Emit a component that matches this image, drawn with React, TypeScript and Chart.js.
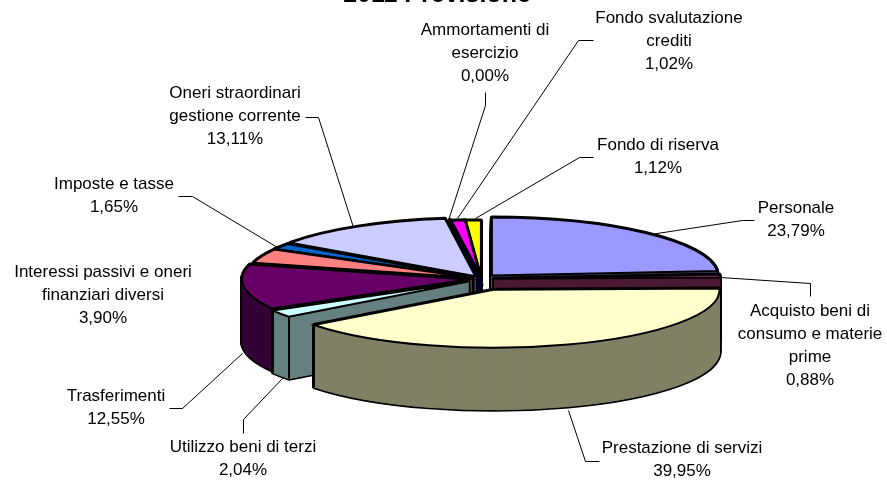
import React, { useEffect, useRef } from "react";
import { Chart, registerables } from "chart.js";

Chart.register(...registerables);

const TITLE = "2011 Previsione";

const categories = [
  "Personale",
  "Acquisto beni di\nconsumo e materie\nprime",
  "Prestazione di servizi",
  "Utilizzo beni di terzi",
  "Trasferimenti",
  "Interessi passivi e oneri\nfinanziari diversi",
  "Imposte e tasse",
  "Oneri straordinari\ngestione corrente",
  "Ammortamenti di\nesercizio",
  "Fondo svalutazione\ncrediti",
  "Fondo di riserva",
];

const values = [23.79, 0.88, 39.95, 2.04, 12.55, 3.9, 1.65, 13.11, 0.004, 1.02, 1.12];

const topColors = ["#9999FF", "#993366", "#FFFFCC", "#CCFFFF", "#660066", "#FF8080", "#0066CC", "#CCCCFF", "#000080", "#FF00FF", "#FFFF00"];
const sideColors = ["#4D4D80", "#4D1A33", "#808066", "#668080", "#330033", "#804040", "#003366", "#666680", "#000040", "#800080", "#808000"];

// How far each slice is pulled out of the pie
const explode = [16, 13, 38, 15, 13, 10, 10, 11, 6, 3, 2];
// Back-to-front painting order of the slices
const paintOrder = [10, 9, 8, 0, 7, 6, 5, 1, 4, 3, 2];

const PIE = { cx: 481, cy: 279, radius: 226, squash: 0.2566, depth: 62, explodeY: 0.3 };

// Label layout: centre x, first line centre y, leader polyline
const labelLayout = [
  { x: 796, y: 208, leader: [[650, 234], [742, 220], [754, 220]] },
  { x: 810, y: 311, leader: [[720, 277], [810, 283], [810, 296]] },
  { x: 682, y: 448, leader: [[568, 410], [585, 461], [599, 461]] },
  { x: 243, y: 447, leader: [[282, 378], [243, 419], [243, 433]] },
  { x: 116, y: 396, leader: [[242, 353], [182, 408], [169, 408]] },
  { x: 103, y: 272, leader: [] },
  { x: 114, y: 184, leader: [[277, 247], [192, 196], [178, 196]] },
  { x: 235, y: 93, leader: [[353, 227], [318, 117], [305, 117]] },
  { x: 485, y: 30, leader: [[448, 220], [485, 105], [485, 92]] },
  { x: 669, y: 18, leader: [[457, 218], [578, 40], [593, 40]] },
  { x: 658, y: 145, leader: [[475, 218], [579, 157], [593, 157]] },
];

const LABEL_FONT = "17px 'Liberation Sans', Arial, sans-serif";
const LINE_HEIGHT = 23;

const pie3d = {
  id: "pie3d",
  beforeDatasetsDraw(chart: any) {
    const ctx = chart.ctx;
    const arcs = chart.getDatasetMeta(0).data;
    const nativeStroke = CanvasRenderingContext2D.prototype.stroke;
    // keep strokes even although the pie is squashed
    ctx.stroke = function () {
      ctx.save();
      ctx.setTransform(1, 0, 0, 1, 0, 0);
      nativeStroke.call(ctx);
      ctx.restore();
    };

    for (const i of paintOrder) {
      const arc = arcs[i];
      const mid = (arc.startAngle + arc.endAngle) / 2;
      const tx = PIE.cx + Math.cos(mid) * explode[i];
      const ty = PIE.cy + Math.sin(mid) * explode[i] * PIE.explodeY;
      const place = (dy: number) => {
        ctx.setTransform(1, 0, 0, PIE.squash, tx, ty + dy);
        ctx.translate(-arc.x, -arc.y);
      };
      const layer = (edge: string, border: number) => {
        const c = Object.create(arc);
        c.options = {
          ...arc.options,
          backgroundColor: sideColors[i],
          borderColor: edge,
          borderWidth: border,
          borderJoinStyle: "round",
        };
        return c;
      };

      ctx.save();
      // black silhouette of the wall
      const outline = layer("#000", 4);
      for (let d = PIE.depth; d >= 0; d--) {
        place(d);
        outline.draw(ctx);
      }
      // wall fill
      const wall = layer(sideColors[i], 1);
      for (let d = PIE.depth; d >= 0; d--) {
        place(d);
        wall.draw(ctx);
      }
      // vertical edges at the front corners
      ctx.setTransform(1, 0, 0, 1, 0, 0);
      ctx.strokeStyle = "#000";
      ctx.lineWidth = 2;
      for (const a of [arc.startAngle, arc.endAngle]) {
        if (Math.sin(a) <= 0) continue;
        const px = tx + Math.cos(a) * arc.outerRadius;
        const py = ty + Math.sin(a) * arc.outerRadius * PIE.squash;
        ctx.beginPath();
        ctx.moveTo(px, py);
        ctx.lineTo(px, py + PIE.depth);
        ctx.stroke();
      }
      // top face
      place(0);
      arc.draw(ctx);
      ctx.restore();
    }
    delete ctx.stroke;
    return false;
  },
  afterDraw(chart: any) {
    const ctx = chart.ctx;
    ctx.save();
    ctx.setTransform(1, 0, 0, 1, 0, 0);
    ctx.strokeStyle = "#000";
    ctx.lineWidth = 1;
    ctx.fillStyle = "#000";
    ctx.font = LABEL_FONT;
    ctx.textAlign = "center";
    ctx.textBaseline = "middle";
    categories.forEach((name, i) => {
      const l = labelLayout[i];
      if (l.leader.length) {
        ctx.beginPath();
        l.leader.forEach(([x, y], k) => (k ? ctx.lineTo(x + 0.5, y + 0.5) : ctx.moveTo(x + 0.5, y + 0.5)));
        ctx.stroke();
      }
      const lines = [...name.split("\n"), values[i].toFixed(2).replace(".", ",") + "%"];
      lines.forEach((t, k) => ctx.fillText(t, l.x, l.y + k * LINE_HEIGHT));
    });
    ctx.restore();
  },
};

export default function App() {
  const ref = useRef<HTMLCanvasElement>(null);
  useEffect(() => {
    const chart = new Chart(ref.current as HTMLCanvasElement, {
      type: "pie",
      data: {
        labels: categories,
        datasets: [
          {
            data: values,
            backgroundColor: topColors,
            borderColor: "#000",
            borderWidth: 2,
            borderJoinStyle: "miter",
            radius: PIE.radius,
            clip: false,
          } as any,
        ],
      },
      options: {
        animation: false,
        responsive: false,
        devicePixelRatio: 1,
        layout: { padding: { right: 13 } },
        plugins: {
          legend: { display: false },
          tooltip: { enabled: false },
          title: {
            display: true,
            text: TITLE,
            color: "#000",
            font: { family: "'Liberation Sans', Arial, sans-serif", size: 25, weight: "bold" },
            padding: { top: -19.5, bottom: 0 },
          },
        },
      },
      plugins: [pie3d],
    } as any);
    return () => chart.destroy();
  }, []);
  return (
    <canvas
      ref={ref}
      width={887}
      height={480}
      style={{ position: "fixed", left: 0, top: 0, display: "block", background: "#fff" }}
    />
  );
}
